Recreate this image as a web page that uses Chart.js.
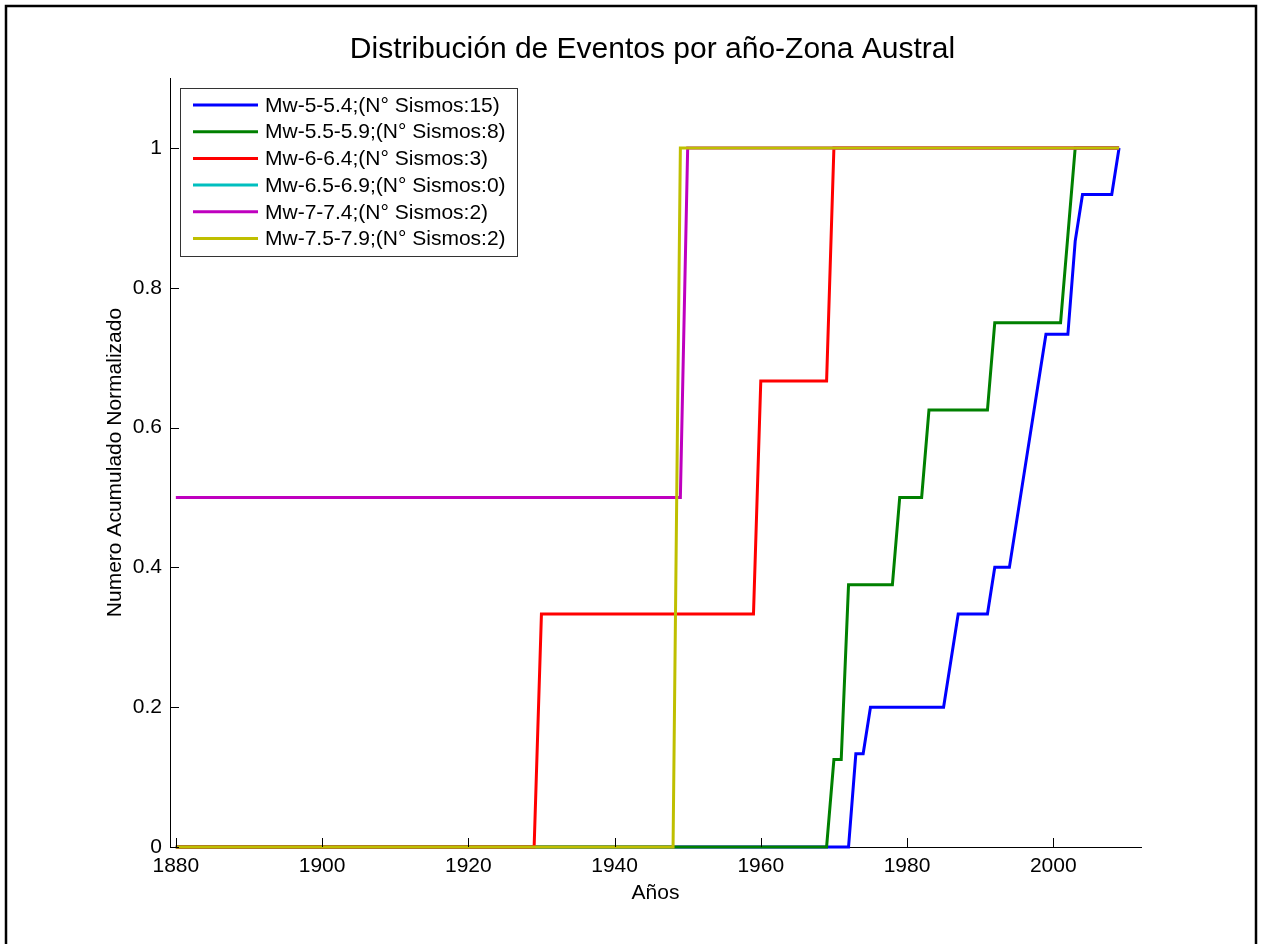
<!DOCTYPE html>
<html>
<head>
<meta charset="utf-8">
<script src="https://cdn.jsdelivr.net/npm/chart.js@4.4.1/dist/chart.umd.min.js"></script>
<style>
  html, body { margin: 0; padding: 0; background: #fff; }
  #wrap { width: 1262px; height: 944px; }
</style>
</head>
<body>
<div id="wrap"><canvas id="chart" width="1262" height="944"></canvas></div>
<script>
const titleText = "Distribución de Eventos por año-Zona Austral";
const xTitle = "Años";
const yTitle = "Numero Acumulado Normalizado";

const xTicks = [1880, 1900, 1920, 1940, 1960, 1980, 2000];
const yTicks = [0, 0.2, 0.4, 0.6, 0.8, 1];

const labels = [
  "Mw-5-5.4;(N° Sismos:15)",
  "Mw-5.5-5.9;(N° Sismos:8)",
  "Mw-6-6.4;(N° Sismos:3)",
  "Mw-6.5-6.9;(N° Sismos:0)",
  "Mw-7-7.4;(N° Sismos:2)",
  "Mw-7.5-7.9;(N° Sismos:2)",
];
const colors = ["#0000ff", "#008000", "#ff0000", "#00bfbf", "#bf00bf", "#bfbf00"];

const blueYears = [1880, 1972, 1973, 1974, 1975, 1985, 1987, 1991, 1992, 1994, 1999, 2002, 2003, 2004, 2008, 2009];
const blueValues = [0, 0, 0.1333, 0.1333, 0.2, 0.2, 0.3333, 0.3333, 0.4, 0.4, 0.7333, 0.7333, 0.8667, 0.9333, 0.9333, 1];

const greenYears = [1880, 1969, 1970, 1971, 1972, 1978, 1979, 1982, 1983, 1991, 1992, 2001, 2002, 2003, 2009];
const greenValues = [0, 0, 0.125, 0.125, 0.375, 0.375, 0.5, 0.5, 0.625, 0.625, 0.75, 0.75, 0.875, 1, 1];

const redYears = [1880, 1929, 1930, 1959, 1960, 1969, 1970, 2009];
const redValues = [0, 0, 0.3333, 0.3333, 0.6667, 0.6667, 1, 1];

const cyanYears = [];
const cyanValues = [];

const purpleYears = [1880, 1949, 1950, 2009];
const purpleValues = [0.5, 0.5, 1, 1];

const yellowYears = [1880, 1948, 1949, 2009];
const yellowValues = [0, 0, 1, 1];

const allYears = [blueYears, greenYears, redYears, cyanYears, purpleYears, yellowYears];
const allValues = [blueValues, greenValues, redValues, cyanValues, purpleValues, yellowValues];

const FONT = "'Liberation Sans', Arial, sans-serif";

// matlab draws later series on top, chart.js draws lower order on top
const datasets = labels.map((lab, i) => ({
  label: lab,
  data: allYears[i].map((yr, k) => ({ x: yr, y: allValues[i][k] })),
  borderColor: colors[i],
  backgroundColor: colors[i],
  borderWidth: 3,
  pointRadius: 0,
  tension: 0,
  fill: false,
  clip: false,
  order: labels.length - i,
}));

const decorPlugin = {
  id: "decor",
  beforeDraw(chart) {
    const ctx = chart.ctx;
    ctx.save();
    ctx.fillStyle = "#fff";
    ctx.fillRect(0, 0, chart.width, chart.height);
    ctx.restore();
  },
  afterDraw(chart) {
    const ctx = chart.ctx;
    const area = chart.chartArea;
    const xs = chart.scales.x, ys = chart.scales.y;
    ctx.save();

    // inward tick marks
    ctx.strokeStyle = "#000";
    ctx.lineWidth = 1;
    ctx.beginPath();
    xTicks.forEach(v => {
      const px = Math.round(xs.getPixelForValue(v)) + 0.5;
      ctx.moveTo(px, area.bottom);
      ctx.lineTo(px, area.bottom - 9);
    });
    yTicks.forEach(v => {
      const py = Math.round(ys.getPixelForValue(v)) + 0.5;
      ctx.moveTo(area.left, py);
      ctx.lineTo(area.left + 9, py);
    });
    ctx.stroke();

    // title and axis titles
    ctx.fillStyle = "#000";
    ctx.textAlign = "center";
    ctx.textBaseline = "middle";
    ctx.font = "30px " + FONT;
    ctx.fillText(titleText, (area.left + area.right) / 2 - 3, 50);
    ctx.font = "21px " + FONT;
    ctx.fillText(xTitle, (area.left + area.right) / 2, 893);
    ctx.save();
    ctx.translate(115, (area.top + area.bottom) / 2);
    ctx.rotate(-Math.PI / 2);
    ctx.fillText(yTitle, 0, 0);
    ctx.restore();

    // legend box inside the axes
    const bx = area.left + 10, by = area.top + 10, bw = 337, bh = 168;
    ctx.fillStyle = "#fff";
    ctx.fillRect(bx, by, bw, bh);
    ctx.strokeStyle = "#333";
    ctx.lineWidth = 1;
    ctx.strokeRect(bx + 0.5, by + 0.5, bw, bh);
    ctx.textAlign = "left";
    ctx.font = "21px " + FONT;
    chart.data.datasets.forEach((ds, i) => {
      const ry = by + 17 + i * 26.7;
      ctx.strokeStyle = ds.borderColor;
      ctx.lineWidth = 3;
      ctx.beginPath();
      ctx.moveTo(bx + 13, ry);
      ctx.lineTo(bx + 78, ry);
      ctx.stroke();
      ctx.fillStyle = "#000";
      ctx.fillText(ds.label, bx + 85, ry + 1);
    });

    // figure frame
    ctx.strokeStyle = "#000";
    ctx.lineWidth = 2.5;
    ctx.strokeRect(6, 6, chart.width - 12, chart.height + 20);
    ctx.restore();
  },
};

new Chart(document.getElementById("chart"), {
  type: "line",
  data: { datasets },
  options: {
    responsive: false,
    animation: false,
    events: [],
    layout: { padding: { top: 78, right: 121, left: 0, bottom: 0 } },
    plugins: {
      legend: { display: false },
      title: { display: false },
      tooltip: { enabled: false },
    },
    scales: {
      x: {
        type: "linear",
        min: 1879.2,
        max: 2012,
        afterBuildTicks: s => { s.ticks = xTicks.map(v => ({ value: v })); },
        afterFit: s => { s.height = 97; },
        grid: { display: true, drawOnChartArea: false, drawTicks: false },
        border: { display: true, color: "#000", width: 1 },
        ticks: { color: "#000", padding: 7, font: { family: FONT, size: 21 }, callback: v => String(v) },
      },
      y: {
        type: "linear",
        min: 0,
        max: 1.1,
        afterBuildTicks: s => { s.ticks = yTicks.map(v => ({ value: v })); },
        afterFit: s => { s.width = 170; },
        grid: { display: true, drawOnChartArea: false, drawTicks: false },
        border: { display: true, color: "#000", width: 1 },
        ticks: { color: "#000", padding: 8, font: { family: FONT, size: 21 }, callback: v => String(v) },
      },
    },
  },
  plugins: [decorPlugin],
});
</script>
</body>
</html>
